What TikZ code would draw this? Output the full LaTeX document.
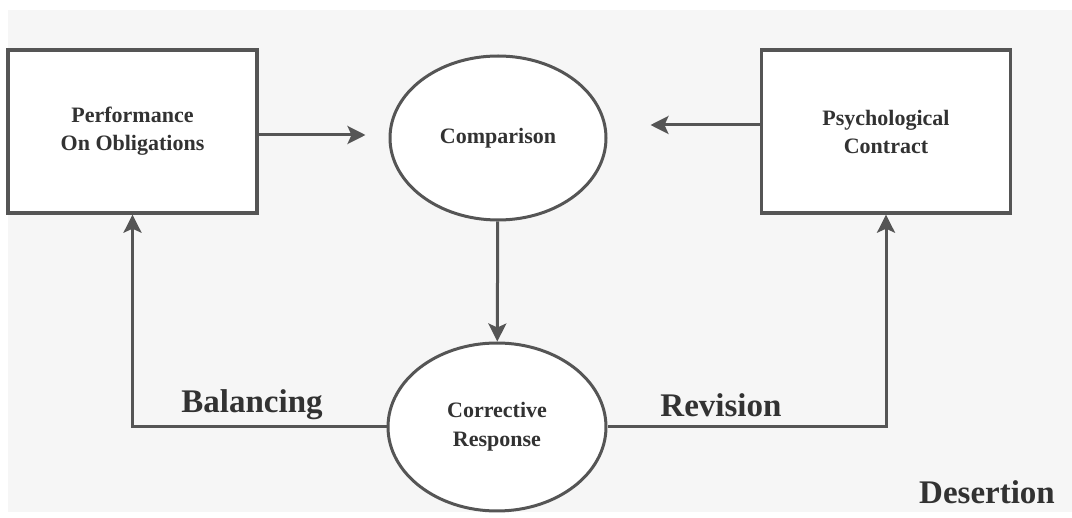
\documentclass[tikz,border=0pt]{standalone}
\usepackage{fontspec}
\setmainfont{Liberation Serif}
\usepackage{tikz}
\usetikzlibrary{shapes.geometric, arrows.meta}
\definecolor{ScanGray}{RGB}{246,246,246}
\definecolor{LineGray}{RGB}{85,85,85}
\definecolor{InkGray}{RGB}{50,50,50}

\begin{document}
\begin{tikzpicture}[x=1pt, y=-1pt,
          box/.style={rectangle, draw=LineGray, line width=3.4pt, fill=white,
                      minimum width=249pt, minimum height=163pt, align=center,
                      text=InkGray, font=\fontsize{22}{28}\selectfont\bfseries},
          oval/.style={ellipse, draw=LineGray, line width=3pt, fill=white,
                       inner sep=0pt, align=center, text=InkGray,
                       font=\fontsize{22}{29}\selectfont\bfseries},
          tag/.style={text=InkGray, font=\fontsize{33}{36}\selectfont\bfseries},
          arr/.style={-{Stealth[length=18pt, width=18pt, inset=4pt]},
                      draw=LineGray, line width=3pt}
        ]
        % page and scanned area
        \fill[white] (0,0) rectangle (1072,518);
        \fill[ScanGray] (8,10) rectangle (1072,512);
        \useasboundingbox (0,0) rectangle (1072,518);

        \node[box] (perf) at (132.5, 131.5) {Performance\\On Obligations};
        \node[box] (psy)  at (886, 131.5)   {Psychological\\Contract};

        \node[oval, minimum width=216pt, minimum height=164pt]
              (cmp) at (498, 138) {Comparison};
        \node[oval, minimum width=218pt, minimum height=168pt]
              (cor) at (497, 427) {Corrective\\Response};

        \draw[arr, shorten >=23pt] ([yshift=-3.5pt]perf.east)
              -- ([yshift=-3.5pt]perf.east -| cmp.west);
        \draw[arr, shorten >=43pt] ([yshift=6.5pt]psy.west)
              -- ([yshift=6.5pt]psy.west -| cmp.east);
        \draw[arr] (cmp) -- (cor);

        % feedback loops
        \draw[arr] (cor.west) -| (perf.south);
        \draw[arr] (cor.east) -| (psy.south);

        \node[tag] (bal) at (252, 405) {Balancing};
        \node[tag] (rev) at (721, 405) {Revision};
        \node[tag] (des) at (987, 492) {Desertion};
      \end{tikzpicture}
\end{document}
